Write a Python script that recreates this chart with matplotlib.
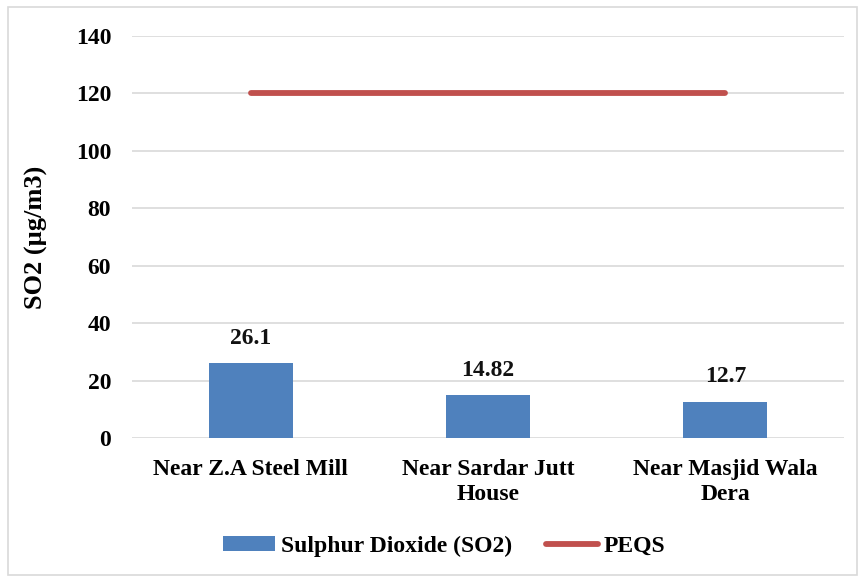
import matplotlib.pyplot as plt
from matplotlib.patches import Rectangle

sites = ["Near Z.A Steel Mill", "Near Sardar Jutt\nHouse", "Near Masjid Wala\nDera"]
so2 = [26.1, 14.82, 12.7]
so2_labels = ["26.1", "14.82", "12.7"]
peqs = [120, 120, 120]

plt.rcParams["font.family"] = ["Liberation Serif", "DejaVu Serif"]
plt.rcParams["font.weight"] = "bold"

fig = plt.figure(figsize=(8.61, 5.79), dpi=100)
ax = fig.add_axes([132 / 861, 1 - 438 / 579, 712 / 861, 402 / 579])

x = list(range(len(sites)))
bars = ax.bar(x, so2, width=0.355, color="#4F81BD", label="Sulphur Dioxide (SO2)", zorder=2)
line, = ax.plot(x, peqs, color="#C0504D", linewidth=4.2, solid_capstyle="round", label="PEQS", zorder=3)

for xi, v, s in zip(x, so2, so2_labels):
    ax.text(xi, v + 5, s, ha="center", va="bottom", fontsize=17, fontweight="bold", color="#111111")

ax.set_xlim(-0.5, 2.5)
ax.set_ylim(0, 140)
ax.set_yticks(range(0, 141, 20))
ax.set_xticks(x)
ax.set_xticklabels(sites, fontsize=17, fontweight="bold", linespacing=1.25)
ax.tick_params(axis="y", labelsize=17, length=0, pad=15)
ax.tick_params(axis="x", length=0, pad=15)
for lab in ax.get_yticklabels():
    lab.set_fontweight("bold")
ax.grid(axis="y", color="#D9D9D9", linewidth=1.2, zorder=0)
for side in ["top", "right", "left", "bottom"]:
    ax.spines[side].set_visible(False)
ax.set_ylabel("SO2 (µg/m3)", fontsize=19, fontweight="bold", labelpad=20)

leg = fig.legend([bars, line], ["Sulphur Dioxide (SO2)", "PEQS"], loc="center",
                 bbox_to_anchor=(444 / 861, 1 - 546 / 579), ncol=2, frameon=False,
                 fontsize=17, handlelength=2.2, handleheight=0.6, columnspacing=1.45, handletextpad=0.25)
for t in leg.get_texts():
    t.set_fontweight("bold")

fig.patches.append(Rectangle((8 / 861, 4 / 579), 849 / 861, 568 / 579, transform=fig.transFigure,
                             fill=False, edgecolor="#D9D9D9", linewidth=1.2))

fig.savefig("out.png", dpi=100, facecolor="white")
